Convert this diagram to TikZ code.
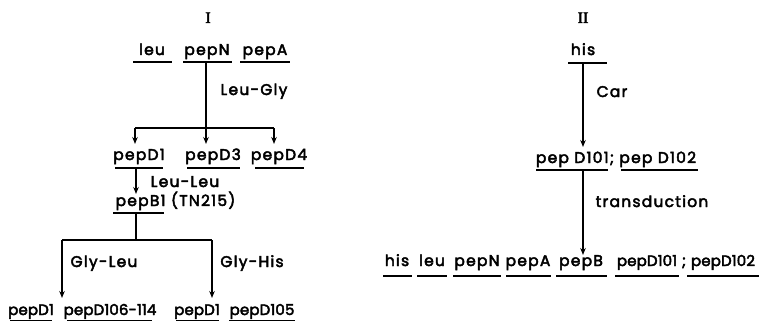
\documentclass[tikz,border=0pt]{standalone}
\usepackage{fontspec}
\setmainfont{Poppins}[LetterSpace=8,FakeBold=3]
\newfontfamily\tightfont{Poppins}[LetterSpace=1,FakeBold=3]
\newfontfamily\romfont{Liberation Serif}[FakeBold=3]
\usetikzlibrary{arrows.meta}
\begin{document}
\begin{tikzpicture}[x=1pt,y=-1pt,
  lbl/.style={anchor=base,inner sep=0pt,font=\fontsize{15.5}{17}\selectfont},
  tlbl/.style={anchor=base,inner sep=0pt,font=\tightfont\fontsize{15}{17}\selectfont},
  rom/.style={anchor=base,inner sep=0pt,font=\romfont\fontsize{16}{17}\selectfont},
  ul/.style={line width=1.5pt},
  ln/.style={line width=1.6pt},
  arr/.style={line width=1.6pt,-{Stealth[length=7pt,width=5.5pt]}}]
\useasboundingbox (0,0) rectangle (760,321);
% ---------- Panel I ----------
\node[rom] (t1) at (208,23) {I};
\node[lbl] (leu) at (152,55) {leu};
\node[lbl] (pepN) at (207,55) {pepN};
\node[lbl] (pepA) at (265,55) {pepA};
\draw[ul] (133,62) -- (172,62);
\draw[ul] (183,62) -- (232,62);
\draw[ul] (240,62) -- (290,62);
\coordinate (nbot) at (206,62);
\coordinate (j1) at (206,128);
\coordinate (j1l) at (135,128);
\coordinate (j1r) at (274,128);
\coordinate (a1) at (135,144);
\coordinate (a2) at (206,144);
\coordinate (a3) at (274,144);
\draw[ln] (nbot) -- (j1);
\draw[ln] (j1l) -- (j1r);
\draw[arr] (j1l) -- (a1);
\draw[arr] (j1) -- (a2);
\draw[arr] (j1r) -- (a3);
\node[lbl] (lg) at (254,95) {Leu-Gly};
\node[lbl] (d1) at (139,160) {pepD1};
\node[lbl] (d3) at (213,160) {pepD3};
\node[lbl] (d4) at (279,160) {pepD4};
\draw[ul] (115,168) -- (163,168);
\draw[ul] (187,168) -- (240,168);
\draw[ul] (255,168) -- (304,168);
\coordinate (b0) at (136,168);
\coordinate (b1) at (136,194);
\draw[arr] (b0) -- (b1);
\node[lbl] (ll) at (185,187) {Leu-Leu};
\node[lbl] (pb) at (175.5,206) {pepB1 (TN215)};
\draw[ul] (113,213) -- (164,213);
\coordinate (c0) at (136,213);
\coordinate (j2) at (136,240);
\coordinate (j2l) at (62,240);
\coordinate (j2r) at (212,240);
\coordinate (e1) at (62,298);
\coordinate (e2) at (212,298);
\draw[ln] (c0) -- (j2);
\draw[ln] (j2l) -- (j2r);
\draw[arr] (j2l) -- (e1);
\draw[arr] (j2r) -- (e2);
\node[lbl] (gl) at (104,267) {Gly-Leu};
\node[lbl] (gh) at (252,267) {Gly-His};
\node[tlbl] (f1) at (31,315) {pepD1};
\node[tlbl] (f2) at (110,315) {pepD106-114};
\node[tlbl] (f3) at (197,315) {pepD1};
\node[tlbl] (f4) at (262,315) {pepD105};
\draw[ul] (10,320.5) -- (52,320.5);
\draw[ul] (67,320.5) -- (152,320.5);
\draw[ul] (176,320.5) -- (219,320.5);
\draw[ul] (229,320.5) -- (295,320.5);
% ---------- Panel II ----------
\node[rom] (t2) at (583,23) {II};
\node[lbl] (his) at (583,55) {his};
\draw[ul] (568,63) -- (607,63);
\coordinate (h0) at (583,63);
\coordinate (h1) at (583,147);
\draw[arr] (h0) -- (h1);
\node[lbl] (car) at (612,97) {Car};
\node[lbl] (pd) at (616,163) {pep D101; pep D102};
\draw[ul] (536,170) -- (608,170);
\draw[ul] (621,170) -- (698,170);
\coordinate (p0) at (583,170);
\coordinate (p1) at (583,255);
\draw[arr] (p0) -- (p1);
\node[lbl] (tr) at (652,207) {transduction};
\node[lbl] (g1) at (397,266) {his};
\node[lbl] (g2) at (432,266) {leu};
\node[lbl] (g3) at (477,266) {pepN};
\node[lbl] (g4) at (528,266) {pepA};
\node[lbl] (g5) at (581,266) {pepB};
\node[tlbl] (g6) at (647,266) {pepD101};
\node[lbl] (g7) at (684,266) {;};
\node[tlbl] (g8) at (723,266) {pepD102};
\draw[ul] (383,276) -- (412,276);
\draw[ul] (417,276) -- (447,276);
\draw[ul] (453,276) -- (501,276);
\draw[ul] (506,276) -- (551,276);
\draw[ul] (556,276) -- (607,276);
\draw[ul] (615,276) -- (679,276);
\draw[ul] (687,276) -- (759,276);
\end{tikzpicture}
\end{document}
